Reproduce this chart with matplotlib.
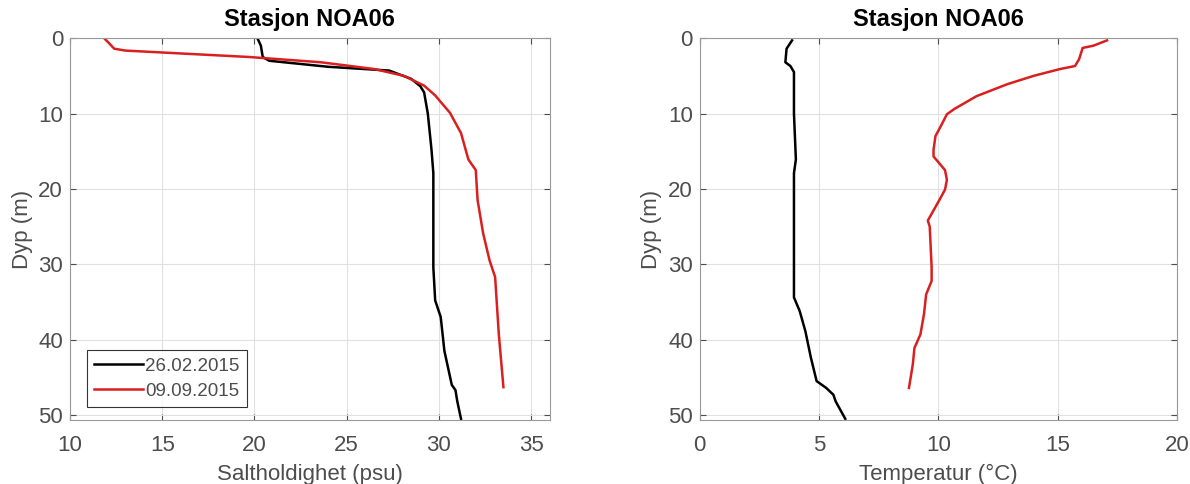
import matplotlib.pyplot as plt

plt.rcParams['font.family'] = ['Liberation Sans', 'DejaVu Sans']

# ---------------- DATA ----------------
# Salinity, 26.02.2015
sal_feb = [20.16, 20.35, 20.45, 20.8, 24.0, 27.3, 28.5, 29.0, 29.2, 29.4, 29.6, 29.7,
           29.7, 29.8, 30.1, 30.3, 30.7, 30.9, 31.0, 31.2]
sal_feb_depth = [0, 1, 2.5, 3, 3.8, 4.3, 5.4, 6.4, 7.2, 10, 14.8, 17.9,
                 30.4, 34.8, 37, 41.5, 46, 46.7, 48.2, 50.5]

# Salinity, 09.09.2015
sal_sep = [11.85, 12.05, 12.4, 13.0, 19.7, 23.6, 26.5, 28.1, 29.2, 29.8, 30.6, 31.2,
           31.6, 32.0, 32.1, 32.4, 32.75, 33.05, 33.25, 33.5]
sal_sep_depth = [0, 0.5, 1.4, 1.65, 2.5, 3.2, 4.1, 5, 6.3, 7.6, 9.9, 12.6,
                 16.1, 17.5, 21.5, 25.9, 29.5, 31.7, 39.3, 46.3]

# Temperature, 26.02.2015
temp_feb = [3.87, 3.64, 3.59, 3.8, 3.95, 3.95, 4.03, 3.95, 3.95, 3.95, 4.19, 4.43,
            4.66, 4.9, 5.3, 5.6, 5.7, 6.1]
temp_feb_depth = [0.3, 1.4, 3.2, 3.7, 4.5, 10, 16.1, 17.9, 30.4, 34.4, 36.2, 38.9,
                  42.4, 45.5, 46.4, 47.3, 48.2, 50.5]

# Temperature, 09.09.2015
temp_sep = [17.07, 16.5, 16.05, 15.9, 15.73, 15.1, 14.0, 12.9, 11.6, 10.67, 10.36, 10.1,
            9.88, 9.8, 9.8, 10.04, 10.28, 10.36, 10.28, 10.04, 9.72, 9.56, 9.64, 9.72,
            9.72, 9.49, 9.4, 9.25, 9.0, 8.93, 8.77]
temp_sep_depth = [0.3, 1, 1.3, 2.8, 3.7, 4.1, 5, 6.1, 7.7, 9.4, 10.1, 11.7,
                  13, 14.8, 15.7, 16.6, 17.5, 18.8, 20.1, 21.5, 23.3, 24.2, 25, 30.4,
                  32.2, 34, 36.6, 39.3, 41.1, 43.3, 46.4]

labels = ["26.02.2015", "09.09.2015"]
title = "Stasjon NOA06"

RED = (0.85, 0.12, 0.12)
TXT = (0.3, 0.3, 0.3)
FS = 16

fig = plt.figure(figsize=(11.9, 4.84), dpi=100)
ax1 = fig.add_axes([0.0588, 0.1322, 0.403, 0.789])
ax2 = fig.add_axes([0.588, 0.1322, 0.401, 0.789])


def style(ax):
    ax.invert_yaxis()
    ax.grid(True, color=(0.88, 0.88, 0.88), linewidth=0.8)
    ax.set_axisbelow(True)
    ax.tick_params(direction='in', top=True, right=True, labelsize=FS,
                   colors=TXT, length=4)
    ax.tick_params(axis='x', pad=10.5)
    ax.tick_params(axis='y', pad=5)
    for s in ax.spines.values():
        s.set_color((0.6, 0.6, 0.6))
    ax.set_ylabel("Dyp (m)", fontsize=FS, color=TXT, labelpad=4)
    ax.set_title(title, fontsize=17, fontweight='bold', pad=9)


# ---------------- SALINITY ----------------
ax1.plot(sal_feb, sal_feb_depth, color='black', linewidth=1.8, label=labels[0])
ax1.plot(sal_sep, sal_sep_depth, color=RED, linewidth=1.8, label=labels[1])
ax1.set_xlim(10, 36)
ax1.set_ylim(0, 50.66)
ax1.set_xticks([10, 15, 20, 25, 30, 35])
ax1.set_yticks([0, 10, 20, 30, 40, 50])
style(ax1)
ax1.set_xlabel("Saltholdighet (psu)", fontsize=FS, color=TXT, labelpad=6)
leg = ax1.legend(loc='lower left', bbox_to_anchor=(0.035, 0.034), fontsize=13.5,
                 frameon=True, fancybox=False, edgecolor='black', handlelength=2.6,
                 handletextpad=0.1, borderaxespad=0, borderpad=0.4,
                 labelspacing=0.4)
leg.get_frame().set_linewidth(0.8)
for t in leg.get_texts():
    t.set_color(TXT)

# ---------------- TEMPERATURE ----------------
ax2.plot(temp_feb, temp_feb_depth, color='black', linewidth=1.8)
ax2.plot(temp_sep, temp_sep_depth, color=RED, linewidth=1.8)
ax2.set_xlim(0, 20)
ax2.set_ylim(0, 50.66)
ax2.set_xticks([0, 5, 10, 15, 20])
ax2.set_yticks([0, 10, 20, 30, 40, 50])
style(ax2)
ax2.set_xlabel("Temperatur (°C)", fontsize=FS, color=TXT, labelpad=6)

fig.savefig("out.png", dpi=100)
